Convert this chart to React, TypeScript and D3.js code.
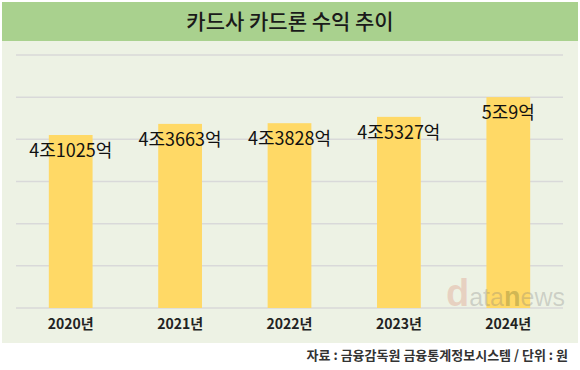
import React from 'react';
import * as d3 from 'd3';

// 카드사 카드론 수익 (단위: 조원)
const years = ['2020년', '2021년', '2022년', '2023년', '2024년'];
const revenue = [4.1025, 4.3663, 4.3828, 4.5327, 5.0009];
const valueLabels = ['4조1025억', '4조3663억', '4조3828억', '4조5327억', '5조9억'];
const yTicks = [0, 1, 2, 3, 4, 5, 6];

const W = 580;
const H = 370;
const font = '"Noto Sans CJK KR", "Noto Sans", sans-serif';

const App: React.FC = () => {
  const x = d3.scaleBand<string>()
    .domain(years)
    .range([16, 563])
    .paddingInner(0.6)
    .paddingOuter(0.3);

  const y = d3.scaleLinear()
    .domain([0, 6])
    .range([308, 55]);

  return (
    <svg width={W} height={H} style={{ position: 'absolute', left: 0, top: 0, background: '#fff' }}>
      {/* 제목 */}
      <rect x={2} y={2} width={576} height={39} fill="#a9d18e" />
      <text x={290} y={29} textAnchor="middle" fontFamily={font} fontSize={21} fontWeight={500} fill="#1a1a1a">
        카드사 카드론 수익 추이
      </text>

      {/* 배경 */}
      <rect x={2} y={41} width={576} height={302} fill="#edf2e4" />

      {/* 눈금선 */}
      {yTicks.map(t => (
        <line key={t} x1={16} x2={563} y1={y(t)} y2={y(t)} stroke="#d9d9d9" strokeWidth={1.5} />
      ))}

      {/* 막대 */}
      {years.map((yr, i) => (
        <rect key={yr} x={x(yr)} y={y(revenue[i])} width={x.bandwidth()} height={y(0) - y(revenue[i])} fill="#ffd966" />
      ))}

      {/* 워터마크 */}
      <text x={446} y={306} fontFamily='"Liberation Sans", Arial, sans-serif'>
        <tspan fontSize={38} fontWeight="bold" fill="rgba(215,110,90,0.25)">d</tspan>
        <tspan fontSize={25} fill="rgba(120,120,120,0.28)">ata</tspan>
        <tspan fontSize={27} fontWeight="bold" fill="rgba(150,140,60,0.45)">n</tspan>
        <tspan fontSize={25} fill="rgba(120,120,120,0.28)">ews</tspan>
      </text>

      {/* 값 라벨 */}
      {years.map((yr, i) => (
        <text key={yr} x={x(yr)! + x.bandwidth() / 2} y={y(revenue[i]) + 22} textAnchor="middle"
          fontFamily={font} fontSize={18} fill="#111">
          {valueLabels[i]}
        </text>
      ))}

      {/* x축 라벨 */}
      {years.map(yr => (
        <text key={yr} x={x(yr)! + x.bandwidth() / 2} y={329} textAnchor="middle"
          fontFamily={font} fontSize={14} fontWeight="bold" fill="#222">
          {yr}
        </text>
      ))}

      {/* 출처 */}
      <text x={568} y={360} textAnchor="end" fontFamily={font} fontSize={13} fontWeight="bold" fill="#333">
        자료 : 금융감독원 금융통계정보시스템 / 단위 : 원
      </text>
    </svg>
  );
};

export default App;
